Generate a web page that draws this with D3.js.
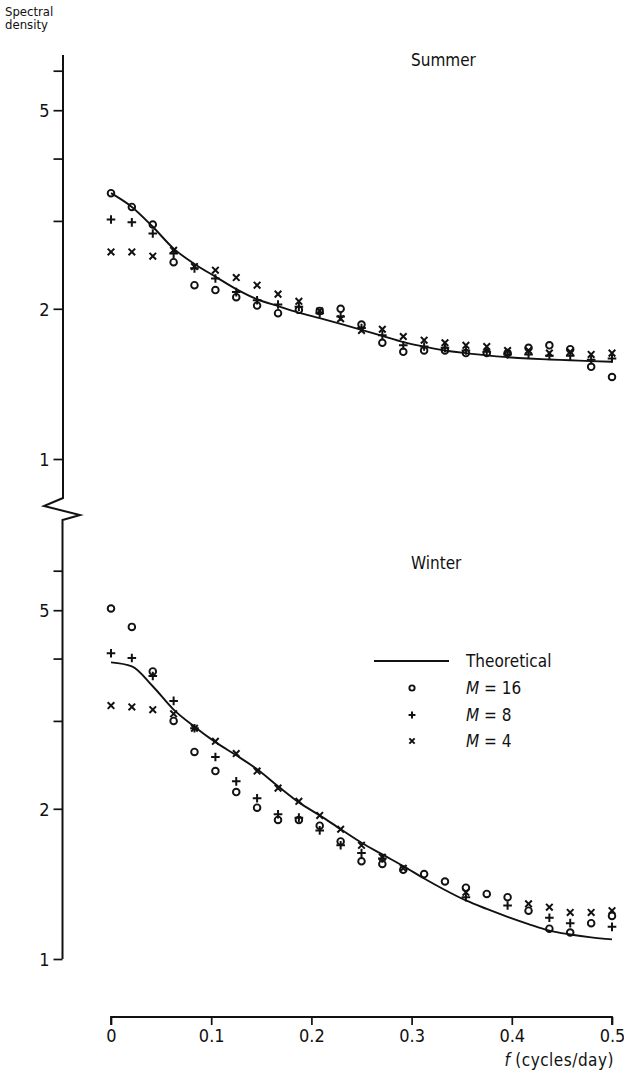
<!DOCTYPE html>
<html>
<head>
<meta charset="utf-8">
<script src="https://cdn.jsdelivr.net/npm/d3@7"></script>
<style>
  body { margin: 0; background: #fff; }
  svg text { font-family: "DejaVu Sans Condensed", "DejaVu Sans", sans-serif; fill: #111; }
</style>
</head>
<body>
<svg id="chart" width="624" height="1078"></svg>
<script>
// frequencies, cycles/day (steps of 1/48)
const freq = [0, 0.0208, 0.0417, 0.0625, 0.0833, 0.1042, 0.125, 0.1458, 0.1667, 0.1875,
  0.2083, 0.2292, 0.25, 0.2708, 0.2917, 0.3125, 0.3333, 0.3542, 0.375, 0.3958,
  0.4167, 0.4375, 0.4583, 0.4792, 0.5];

// Summer
const summerTheory = [3.41, 3.20, 2.92, 2.64, 2.46, 2.32, 2.19, 2.09, 2.025, 1.965,
  1.915, 1.865, 1.815, 1.765, 1.715, 1.68, 1.65, 1.63, 1.613, 1.60, 1.59, 1.583, 1.577, 1.571, 1.566];
const summerM16 = [3.41, 3.20, 2.95, 2.48, 2.23, 2.18, 2.11, 2.03, 1.96, 1.99,
  1.98, 2.00, 1.86, 1.71, 1.64, 1.65, 1.65, 1.63, 1.63, 1.63, 1.67, 1.69, 1.66, 1.53, 1.46];
const summerM8 = [3.02, 2.98, 2.83, 2.58, 2.41, 2.30, 2.16, 2.08, 2.04, 2.02,
  1.96, 1.93, 1.83, 1.77, 1.69, 1.68, 1.67, 1.65, 1.64, 1.62, 1.62, 1.61, 1.61, 1.58, 1.59];
const summerM4 = [2.60, 2.60, 2.55, 2.62, 2.43, 2.39, 2.31, 2.23, 2.14, 2.07,
  1.98, 1.91, 1.81, 1.82, 1.76, 1.73, 1.71, 1.69, 1.68, 1.65, 1.65, 1.63, 1.64, 1.62, 1.63];

// Winter
const winterTheory = [3.93, 3.86, 3.52, 3.16, 2.92, 2.72, 2.56, 2.40, 2.22, 2.06,
  1.94, 1.82, 1.71, 1.62, 1.535, 1.45, 1.375, 1.31, 1.26, 1.215, 1.175, 1.14, 1.12, 1.105, 1.095];
const winterM16 = [5.04, 4.63, 3.77, 3.00, 2.60, 2.38, 2.16, 2.01, 1.90, 1.90,
  1.85, 1.72, 1.57, 1.55, 1.51, 1.48, 1.43, 1.39, 1.35, 1.33, 1.25, 1.15, 1.13, 1.18, 1.22];
const winterM8 = [4.10, 4.01, 3.69, 3.29, 2.90, 2.54, 2.27, 2.10, 1.95, 1.92,
  1.81, 1.69, 1.63, 1.59, null, null, null, 1.33, null, 1.28, null, 1.21, 1.18, null, 1.16];
const winterM4 = [3.22, 3.20, 3.16, 3.10, 2.90, 2.73, 2.58, 2.38, 2.20, 2.07,
  1.94, 1.82, 1.69, 1.60, 1.52, null, null, 1.36, null, null, 1.29, 1.27, 1.24, 1.24, 1.25];

const yTicks = [1, 2, 3, 4, 5, 6];
const yLabels = [1, 2, 5];
const xTicks = [0, 0.1, 0.2, 0.3, 0.4, 0.5];
const legendItems = ["Theoretical", "16", "8", "4"];

const svg = d3.select("#chart");

const x = d3.scaleLinear().domain([0, 0.5]).range([111, 612]);
const yTop = d3.scaleLog().domain([1, 10]).range([459, -40]);
const yBot = d3.scaleLog().domain([1, 10]).range([959, 460]);

const axisX = 62.5;

// y axis line with the break
svg.append("path")
  .attr("d", `M${axisX + 0.5},${yTop(6.45)} L${axisX + 0.5},498 L44,506 L80,515 L${axisX},520 L${axisX},${yBot(1)}`)
  .attr("fill", "none")
  .attr("stroke", "#111")
  .attr("stroke-width", 2)
  .attr("stroke-linejoin", "miter");

function yAxis(scale) {
  const g = svg.append("g")
    .attr("transform", `translate(${axisX},0)`)
    .call(d3.axisLeft(scale)
      .tickValues(yTicks)
      .tickSize(9)
      .tickPadding(4)
      .tickFormat(d => yLabels.includes(d) ? d : ""));
  g.select(".domain").remove();
  g.selectAll(".tick line").attr("stroke", "#111").attr("stroke-width", 1.7);
  g.selectAll(".tick text").attr("font-size", 18).attr("fill", "#111").attr("dy", "0.36em");
}
yAxis(yTop);
yAxis(yBot);

// x axis
const gx = svg.append("g")
  .attr("transform", "translate(0,1017)")
  .call(d3.axisBottom(x)
    .tickValues(xTicks)
    .tickSize(8)
    .tickPadding(4)
    .tickFormat(d => d === 0 ? "0" : d3.format(".1f")(d)));
gx.select(".domain").attr("stroke", "#111").attr("stroke-width", 1.8).attr("d", `M${x(0)},8V0H${x(0.5)}V8`);
gx.selectAll(".tick line").attr("stroke", "#111").attr("stroke-width", 1.7);
gx.selectAll(".tick text").attr("font-size", 18).attr("fill", "#111");

const xl = svg.append("text")
  .attr("x", 614).attr("y", 1066)
  .attr("text-anchor", "end")
  .attr("font-size", 17);
xl.append("tspan").attr("font-style", "italic").text("f");
xl.append("tspan").text(" (cycles/day)").attr("letter-spacing", 0.5);

// y title
svg.append("text").attr("x", 5).attr("y", 16).attr("font-size", 13).text("Spectral");
svg.append("text").attr("x", 5).attr("y", 29).attr("font-size", 13).text("density");

// panel titles
svg.append("text").attr("x", 411).attr("y", 66).attr("font-size", 17).text("Summer");
svg.append("text").attr("x", 411).attr("y", 569).attr("font-size", 17).text("Winter");

const line = d3.line().curve(d3.curveMonotoneX);

function marker(g, type, cx, cy, s) {
  if (type === "o") {
    g.append("circle").attr("cx", cx).attr("cy", cy).attr("r", 3.3 * s)
      .attr("fill", "none").attr("stroke", "#111").attr("stroke-width", 1.9);
  } else if (type === "+") {
    const h = 4.3 * s;
    g.append("path").attr("d", `M${cx - h},${cy}H${cx + h}M${cx},${cy - h}V${cy + h}`)
      .attr("stroke", "#111").attr("stroke-width", 2);
  } else {
    const h = 3.3 * s;
    g.append("path").attr("d", `M${cx - h},${cy - h}L${cx + h},${cy + h}M${cx - h},${cy + h}L${cx + h},${cy - h}`)
      .attr("stroke", "#111").attr("stroke-width", 2);
  }
}

function panel(y, theory, m16, m8, m4) {
  const g = svg.append("g");
  g.append("path")
    .attr("d", line(freq.map((f, i) => [x(f), y(theory[i])])))
    .attr("fill", "none").attr("stroke", "#111").attr("stroke-width", 1.9);
  [[m16, "o"], [m8, "+"], [m4, "x"]].forEach(([vals, type]) => {
    vals.forEach((v, i) => {
      if (v != null) marker(g, type, x(freq[i]), y(v), 1);
    });
  });
}

panel(yTop, summerTheory, summerM16, summerM8, summerM4);
panel(yBot, winterTheory, winterM16, winterM8, winterM4);

// legend
const lg = svg.append("g");
const rowY = [661, 688, 715, 741];
lg.append("line").attr("x1", 374).attr("x2", 449).attr("y1", rowY[0]).attr("y2", rowY[0])
  .attr("stroke", "#111").attr("stroke-width", 1.9);
lg.append("text").attr("x", 466).attr("y", rowY[0] + 6).attr("font-size", 17).text(legendItems[0]);
["o", "+", "x"].forEach((t, i) => {
  marker(lg, t, 412, rowY[i + 1], 0.8);
  const tx = lg.append("text").attr("x", 466).attr("y", rowY[i + 1] + 6).attr("font-size", 17);
  tx.append("tspan").attr("font-style", "italic").text("M");
  tx.append("tspan").text(" = " + (legendItems[i + 1].length < 2 ? " " : "") + legendItems[i + 1]);
});
</script>
</body>
</html>
